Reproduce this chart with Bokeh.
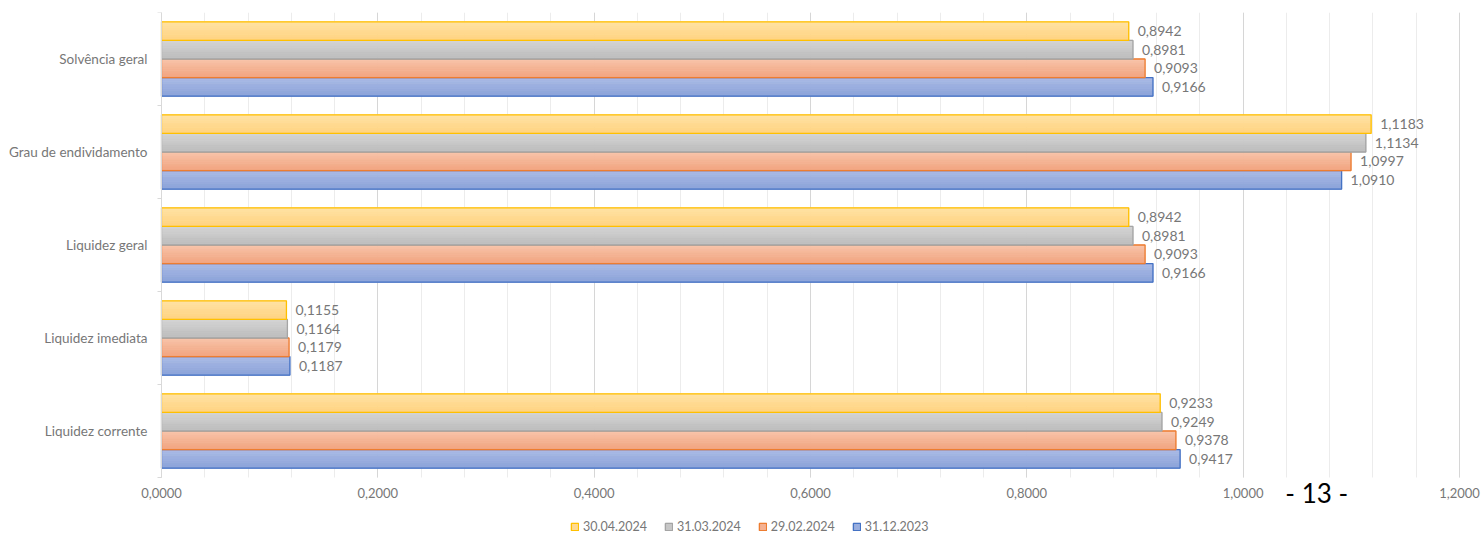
from bokeh.plotting import figure
from bokeh.models import (ColumnDataSource, Range1d, FixedTicker, CustomJSTickFormatter,
                          Legend, LegendItem, Label)
from bokeh.transform import dodge
from bokeh.core.properties import value
from bokeh.embed import file_html
from bokeh.resources import INLINE

# ---------------- data ----------------
categories = ["Liquidez corrente", "Liquidez imediata", "Liquidez geral",
              "Grau de endividamento", "Solvência geral"]          # bottom -> top
series_names = ["31.12.2023", "29.02.2024", "31.03.2024", "30.04.2024"]  # bottom -> top in each group
v_31_12_2023 = [0.9417, 0.1187, 0.9166, 1.0910, 0.9166]
v_29_02_2024 = [0.9378, 0.1179, 0.9093, 1.0997, 0.9093]
v_31_03_2024 = [0.9249, 0.1164, 0.8981, 1.1134, 0.8981]
v_30_04_2024 = [0.9233, 0.1155, 0.8942, 1.1183, 0.8942]
x_ticks = [0.0, 0.2, 0.4, 0.6, 0.8, 1.0, 1.2]
legend_order = ["30.04.2024", "31.03.2024", "29.02.2024", "31.12.2023"]
page_number = "- 13 -"

series_values = [v_31_12_2023, v_29_02_2024, v_31_03_2024, v_30_04_2024]

# ---------------- styles / layout ----------------
W, H = 1482, 533
FONT = "Lato"
TXT = "#777777"
border_colors = ["#4472C4", "#ED7D31", "#A5A5A5", "#FFC000"]
grad_top = ["#AABBE5", "#F8C3A9", "#D4D4D4", "#FFE1A3"]
grad_bot = ["#8CA3DA", "#F2A581", "#BDBDBD", "#FFD482"]

def hex2rgb(h):
    h = h.lstrip("#")
    return [int(h[i:i + 2], 16) for i in (0, 2, 4)]

def mix(a, b, t):
    ra, rb = hex2rgb(a), hex2rgb(b)
    return "#%02x%02x%02x" % tuple(int(round(ra[i] + (rb[i] - ra[i]) * t)) for i in range(3))

BAR_H = 0.2
offsets = [-0.3, -0.1, 0.1, 0.3]
N_STRIPS = 10
# plot area in pixels: value axis 0 at x=161, max at x=1459; categories from y=12 to y=477
PX_LEFT, PX_RIGHT, PX_TOP, PX_BOTTOM = 161, 1459, 12, 477
XMAX = x_ticks[-1]
kx = (PX_RIGHT - PX_LEFT) / XMAX
ky = (PX_BOTTOM - PX_TOP) / len(categories)
x_range = Range1d(-PX_LEFT / kx, (W - PX_LEFT) / kx)
y_range = Range1d(-(H - PX_BOTTOM) / ky, len(categories))

centers = [i + 0.5 for i in range(len(categories))]

p = figure(width=W, height=H, output_backend="svg", toolbar_location=None,
           x_range=x_range, y_range=y_range,
           min_border_left=0, min_border_right=0, min_border_top=PX_TOP, min_border_bottom=0)
p.outline_line_color = None
p.background_fill_color = "white"

# grid
p.xaxis.ticker = FixedTicker(ticks=x_ticks,
                             minor_ticks=[round(i * 0.04, 2) for i in range(31)])
p.xaxis.bounds = (0, XMAX)
p.xgrid.grid_line_color = "#D6D6D6"
p.xgrid.minor_grid_line_color = "#ECECEC"
p.ygrid.grid_line_color = None
try:
    p.xgrid.cross_bounds = (0, len(categories))
except Exception:
    pass

# x axis (drawn at the bottom of the category area)
p.xaxis.fixed_location = 0
p.xaxis.formatter = CustomJSTickFormatter(code="return tick.toFixed(4).replace('.', ',');")
p.xaxis.axis_line_color = None
p.xaxis.major_tick_line_color = None
p.xaxis.minor_tick_line_color = None
p.xaxis.major_tick_out = 0
p.xaxis.minor_tick_out = 0
p.xaxis.major_label_standoff = 10
p.xaxis.major_label_text_font = FONT
p.xaxis.major_label_text_font_size = "13px"
p.xaxis.major_label_text_color = TXT

# y axis at value 0: labels at centers, small ticks at the category boundaries
p.yaxis.fixed_location = 0
p.yaxis.ticker = FixedTicker(ticks=centers,
                             minor_ticks=[float(i) for i in range(len(categories) + 1)])
p.yaxis.bounds = (0, len(categories))
p.yaxis.major_label_overrides = {c: categories[i] for i, c in enumerate(centers)}
p.yaxis.axis_line_color = "#D9D9D9"
p.yaxis.major_tick_line_color = None
p.yaxis.major_tick_out = 0
p.yaxis.major_tick_in = 0
p.yaxis.minor_tick_line_color = "#D9D9D9"
p.yaxis.minor_tick_out = 4
p.yaxis.minor_tick_in = 0
p.yaxis.major_label_standoff = 10
p.yaxis.major_label_text_font = FONT
p.yaxis.major_label_text_font_size = "13.5px"
p.yaxis.major_label_text_color = TXT

legend_renderers = {}
for s, name in enumerate(series_names):
    vals = series_values[s]
    src = ColumnDataSource(dict(
        y=centers, v=vals,
        lab=[("%.4f" % v).replace(".", ",") for v in vals]))
    strip_h = BAR_H / N_STRIPS
    mid_r = None
    for k in range(N_STRIPS):
        t = k / (N_STRIPS - 1)
        col = mix(grad_top[s], grad_bot[s], t)
        off = offsets[s] + BAR_H / 2 - (k + 0.5) * strip_h
        r = p.hbar(y=dodge("y", off, range=p.y_range), right="v", left=0,
                   height=strip_h, source=src,
                   fill_color=col, line_color=col, line_width=0.8)
        if k == N_STRIPS // 2:
            mid_r = r
    outline = p.hbar(y=dodge("y", offsets[s], range=p.y_range), right="v", left=0,
                     height=BAR_H, source=src, fill_color=None,
                     line_color=border_colors[s], line_width=1.3)
    p.text(x="v", y=dodge("y", offsets[s], range=p.y_range), text="lab", source=src,
           x_offset=9, text_baseline="middle", text_align="left",
           text_font=value(FONT), text_font_size="14px", text_color=TXT)
    legend_renderers[name] = [mid_r, outline]

legend = Legend(items=[LegendItem(label=n, renderers=legend_renderers[n]) for n in legend_order],
                orientation="horizontal", location=(570, -1),
                border_line_color=None, background_fill_alpha=0,
                glyph_width=9, glyph_height=9, label_standoff=4, spacing=17,
                padding=0, margin=0,
                label_text_font=FONT, label_text_font_size="12.5px",
                label_text_color=TXT)
p.add_layout(legend, "center")

# page number text that appears over the chart
p.add_layout(Label(x=1.068, y=-0.165, text=page_number, text_align="center",
                   text_baseline="middle", text_font=FONT, text_font_size="26px",
                   text_color="#000000"))

open("out.html", "w").write(file_html(p, INLINE))
